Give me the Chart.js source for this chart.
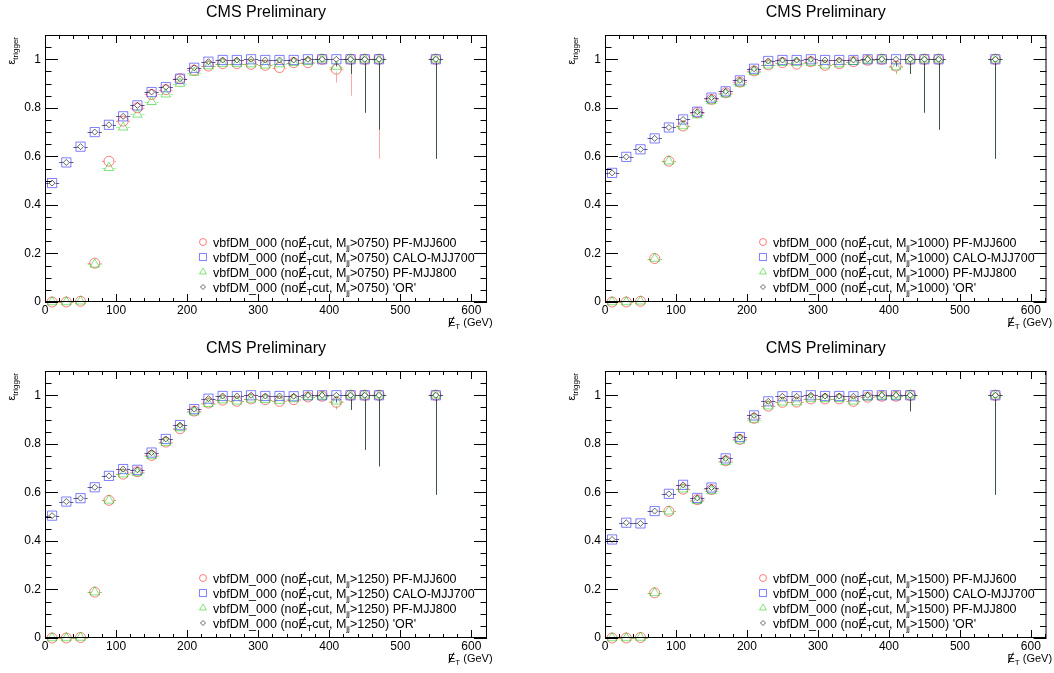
<!DOCTYPE html>
<html>
<head>
<meta charset="utf-8">
<script src="https://cdn.jsdelivr.net/npm/chart.js@4.4.0/dist/chart.umd.min.js"></script>
<style>
  body { margin: 0; background: #fff; width: 1054px; height: 673px; overflow: hidden; position: relative; }
  canvas { position: absolute; }
</style>
</head>
<body>
<canvas id="c1" width="527" height="336" style="left:0;top:0"></canvas>
<canvas id="c2" width="494" height="336" style="left:560px;top:0"></canvas>
<canvas id="c3" width="527" height="337" style="left:0;top:336px"></canvas>
<canvas id="c4" width="494" height="337" style="left:560px;top:336px"></canvas>
<script>
// bin centres (GeV) and half width
const xCenters = [10, 30, 50, 70, 90, 110, 130, 150, 170, 190, 210, 230, 250, 270, 290, 310, 330, 350, 370, 390, 410, 430, 450, 470, 550];
const binHalfWidth = 10;
const xTicks = [0, 100, 200, 300, 400, 500, 600];
const yTicks = [0, 0.2, 0.4, 0.6, 0.8, 1];
const yTickLabels = ['0', '0.2', '0.4', '0.6', '0.8', '1'];
const seriesNames = ['PF-MJJ600', 'CALO-MJJ700', 'PF-MJJ800', "'OR'"];
const massCuts = ['0750', '1000', '1250', '1500'];
const errHiSmall = 0.006;

// M_jj > 750
const p1Pf600 = [0, 0, 0.003, 0.16, 0.58, 0.745, 0.80, 0.855, 0.875, 0.92, 0.955, 0.972, 0.982, 0.982, 0.979, 0.975, 0.966, 0.986, 0.986, 1.0, 0.959, 1.0, 1.0, 1.0, 1.0];
const p1Calo  = [0.49, 0.575, 0.64, 0.70, 0.73, 0.765, 0.81, 0.865, 0.885, 0.92, 0.965, 0.99, 0.997, 0.997, 1.0, 0.997, 0.997, 0.997, 1.0, 1.0, 1.0, 1.0, 1.0, 1.0, 1.0];
const p1Pf800 = [0, 0, 0.003, 0.155, 0.553, 0.72, 0.773, 0.825, 0.856, 0.90, 0.945, 0.972, 0.982, 0.982, 0.98, 0.975, 0.98, 0.986, 0.99, 1.0, 0.97, 1.0, 1.0, 1.0, 1.0];
const p1Or    = [0.49, 0.575, 0.64, 0.70, 0.73, 0.765, 0.81, 0.865, 0.885, 0.92, 0.965, 0.99, 0.997, 0.997, 1.0, 0.997, 0.997, 0.997, 1.0, 1.0, 1.0, 1.0, 1.0, 1.0, 1.0];
const p1ErrLo = [0.01, 0.01, 0.01, 0.01, 0.01, 0.01, 0.01, 0.01, 0.01, 0.008, 0.007, 0.006, 0.005, 0.005, 0.004, 0.005, 0.005, 0.006, 0.008, 0.008, 0.03, 0.06, 0.22, 0.29, 0.41];
const p1Pf600ErrLo = [0.01, 0.01, 0.01, 0.01, 0.01, 0.01, 0.01, 0.01, 0.01, 0.008, 0.007, 0.006, 0.005, 0.005, 0.006, 0.006, 0.008, 0.008, 0.023, 0.008, 0.055, 0.15, 0.22, 0.41, 0.41];

// M_jj > 1000
const p2Pf600 = [0, 0, 0.003, 0.179, 0.58, 0.725, 0.78, 0.835, 0.862, 0.906, 0.952, 0.977, 0.986, 0.98, 0.99, 0.975, 0.982, 0.99, 0.996, 1.0, 0.972, 1.0, 1.0, 1.0, 1.0];
const p2Calo  = [0.532, 0.598, 0.629, 0.674, 0.719, 0.752, 0.784, 0.842, 0.868, 0.913, 0.961, 0.993, 0.997, 0.997, 1.0, 0.997, 0.997, 0.997, 1.0, 1.0, 1.0, 1.0, 1.0, 1.0, 1.0];
const p2Pf800 = [0, 0, 0.003, 0.179, 0.58, 0.725, 0.77, 0.828, 0.856, 0.90, 0.948, 0.975, 0.986, 0.985, 0.986, 0.975, 0.98, 0.99, 0.996, 1.0, 0.968, 1.0, 1.0, 1.0, 1.0];
const p2Or    = [0.532, 0.598, 0.629, 0.674, 0.719, 0.752, 0.784, 0.842, 0.868, 0.913, 0.961, 0.993, 0.997, 0.997, 1.0, 0.997, 0.997, 0.997, 1.0, 1.0, 1.0, 1.0, 1.0, 1.0, 1.0];
const p2ErrLo = [0.01, 0.01, 0.01, 0.01, 0.01, 0.01, 0.01, 0.01, 0.01, 0.008, 0.007, 0.006, 0.005, 0.005, 0.004, 0.005, 0.005, 0.006, 0.008, 0.008, 0.03, 0.06, 0.22, 0.29, 0.41];

// M_jj > 1250
const p3Pf600 = [0, 0, 0.002, 0.189, 0.567, 0.675, 0.685, 0.752, 0.807, 0.862, 0.935, 0.968, 0.98, 0.975, 0.985, 0.982, 0.975, 0.982, 0.993, 0.996, 0.971, 1.0, 1.0, 1.0, 1.0];
const p3Calo  = [0.504, 0.562, 0.576, 0.621, 0.668, 0.696, 0.693, 0.764, 0.82, 0.877, 0.943, 0.986, 0.997, 0.997, 1.0, 0.997, 0.997, 0.996, 1.0, 1.0, 1.0, 1.0, 1.0, 1.0, 1.0];
const p3Pf800 = [0, 0, 0.002, 0.189, 0.567, 0.675, 0.68, 0.75, 0.805, 0.865, 0.93, 0.965, 0.98, 0.975, 0.983, 0.982, 0.978, 0.985, 0.993, 0.996, 0.975, 1.0, 1.0, 1.0, 1.0];
const p3Or    = [0.504, 0.562, 0.576, 0.621, 0.668, 0.696, 0.693, 0.764, 0.82, 0.877, 0.943, 0.986, 0.997, 0.997, 1.0, 0.997, 0.997, 0.996, 1.0, 1.0, 1.0, 1.0, 1.0, 1.0, 1.0];
const p3ErrLo = [0.01, 0.01, 0.01, 0.01, 0.01, 0.01, 0.01, 0.01, 0.01, 0.008, 0.007, 0.006, 0.005, 0.005, 0.004, 0.005, 0.005, 0.006, 0.008, 0.008, 0.03, 0.06, 0.225, 0.293, 0.41];

// M_jj > 1500 (no entries at 450, 470)
const p4Pf600 = [0, 0, 0.002, 0.186, 0.522, 0.613, 0.57, 0.612, 0.73, 0.818, 0.905, 0.955, 0.971, 0.972, 0.985, 0.985, 0.985, 0.975, 0.992, 0.996, 0.996, 1.0, null, null, 1.0];
const p4Calo  = [0.406, 0.475, 0.472, 0.523, 0.594, 0.631, 0.577, 0.62, 0.74, 0.828, 0.917, 0.975, 0.996, 0.996, 1.0, 0.997, 0.997, 0.996, 1.0, 1.0, 1.0, 1.0, null, null, 1.0];
const p4Pf800 = [0, 0, 0.002, 0.186, 0.522, 0.613, 0.565, 0.606, 0.726, 0.814, 0.90, 0.955, 0.971, 0.972, 0.985, 0.985, 0.985, 0.975, 0.992, 0.996, 0.996, 1.0, null, null, 1.0];
const p4Or    = [0.406, 0.475, 0.472, 0.523, 0.594, 0.631, 0.577, 0.62, 0.74, 0.828, 0.917, 0.975, 0.996, 0.996, 1.0, 0.997, 0.997, 0.996, 1.0, 1.0, 1.0, 1.0, null, null, 1.0];
const p4ErrLo = [0.012, 0.012, 0.012, 0.012, 0.012, 0.012, 0.012, 0.012, 0.01, 0.01, 0.008, 0.007, 0.005, 0.005, 0.004, 0.005, 0.005, 0.006, 0.008, 0.008, 0.01, 0.066, null, null, 0.41];

const FONT = '"Liberation Sans", Arial, Helvetica, sans-serif';
const styles = [
  { color: 'rgba(255,0,0,0.5)', errColor: 'rgba(255,0,0,0.35)', pointStyle: 'circle', radius: 5, gap: 5, legendRadius: 3.5, order: 3 },
  { color: 'rgba(0,0,255,0.5)', errColor: 'rgba(0,0,255,0.3)', pointStyle: 'rect', radius: 6.5, gap: 4.5, legendRadius: 5, order: 2 },
  { color: 'rgba(0,200,0,0.5)', errColor: 'rgba(0,220,0,0.35)', pointStyle: 'triangle', radius: 5.5, gap: 4, legendRadius: 4, order: 1 },
  { color: 'rgba(0,0,0,0.6)', errColor: 'rgba(0,0,0,0.45)', pointStyle: 'rectRot', radius: 3, gap: 3, legendRadius: 2.5, order: 0 }
];

function buildPoints(ys, errLo) {
  const pts = [];
  xCenters.forEach((x, i) => {
    if (ys[i] === null) return;
    pts.push({ x: x, y: ys[i], lo: errLo[i], hi: Math.min(errHiSmall, 1 - ys[i]) });
  });
  return pts;
}

// slashed E with subscript T (baseline y), returns end x
function drawMet(ctx, x, y, size) {
  ctx.textBaseline = 'alphabetic';
  ctx.font = size + 'px ' + FONT;
  ctx.fillText('E', x, y);
  const w = ctx.measureText('E').width;
  ctx.beginPath();
  ctx.moveTo(x + w * 0.1, y + size * 0.1);
  ctx.lineTo(x + w * 0.8, y - size * 0.85);
  ctx.lineWidth = 1;
  ctx.stroke();
  ctx.font = Math.round(size * 0.7) + 'px ' + FONT;
  ctx.fillText('T', x + w, y + size * 0.25);
  return x + w + ctx.measureText('T').width;
}

const errorBars = {
  id: 'errorBars',
  beforeDatasetDraw(chart, args) {
    const ctx = chart.ctx;
    const ds = chart.data.datasets[args.index];
    const gap = ds.errGap;
    const xs = chart.scales.x, ys = chart.scales.y;
    ctx.save();
    ctx.strokeStyle = ds.errColor;
    ctx.lineWidth = 1;
    ctx.beginPath();
    ds.data.forEach((p, i) => {
      const el = args.meta.data[i];
      const yy = Math.round(el.y) + 0.5;
      const xx = Math.round(el.x) + 0.5;
      const xl = xs.getPixelForValue(p.x - binHalfWidth);
      const xr = xs.getPixelForValue(p.x + binHalfWidth);
      ctx.moveTo(xl, yy); ctx.lineTo(xx - gap, yy);
      ctx.moveTo(xx + gap, yy); ctx.lineTo(xr, yy);
      const yLo = ys.getPixelForValue(Math.max(0, p.y - p.lo));
      const yHi = ys.getPixelForValue(p.y + p.hi);
      if (yLo > yy + gap) { ctx.moveTo(xx, yLo); ctx.lineTo(xx, yy + gap); }
      if (yHi < yy - gap) { ctx.moveTo(xx, yHi); ctx.lineTo(xx, yy - gap); }
    });
    ctx.stroke();
    ctx.restore();
  }
};

const rootFrame = {
  id: 'rootFrame',
  afterDraw(chart, args, opts) {
    const ctx = chart.ctx;
    const { left, right, top, bottom } = chart.chartArea;
    const xs = chart.scales.x, ys = chart.scales.y;
    ctx.save();
    ctx.strokeStyle = '#000';
    ctx.fillStyle = '#000';
    ctx.lineWidth = 1;
    ctx.strokeRect(left + 0.5, top + 0.5, right - left - 1, bottom - top - 1);

    // x ticks, every 20 GeV, long every 100
    ctx.beginPath();
    for (let v = 0; v <= 620; v += 20) {
      const px = Math.round(xs.getPixelForValue(v)) + 0.5;
      const len = v % 100 === 0 ? 8 : 4;
      ctx.moveTo(px, bottom); ctx.lineTo(px, bottom - len);
      ctx.moveTo(px, top); ctx.lineTo(px, top + len);
    }
    // y ticks, every 0.05, long every 0.2
    for (let k = 0; k <= 22; k++) {
      const py = Math.round(ys.getPixelForValue(k * 0.05)) + 0.5;
      const len = k % 4 === 0 ? 13 : 6.5;
      ctx.moveTo(left, py); ctx.lineTo(left + len, py);
      ctx.moveTo(right, py); ctx.lineTo(right - len, py);
    }
    ctx.stroke();

    ctx.font = '12px ' + FONT;
    ctx.textAlign = 'center';
    ctx.textBaseline = 'top';
    xTicks.forEach(v => ctx.fillText(String(v), xs.getPixelForValue(v), bottom + 3));
    ctx.textAlign = 'right';
    ctx.textBaseline = 'middle';
    yTicks.forEach((v, i) => ctx.fillText(yTickLabels[i], left - 4, ys.getPixelForValue(v)));

    // title
    ctx.textAlign = 'center';
    ctx.textBaseline = 'middle';
    ctx.font = '16px ' + FONT;
    ctx.fillText('CMS Preliminary', (left + right) / 2, 13);

    // x axis title
    ctx.textAlign = 'left';
    let tx = drawMet(ctx, right - 39, bottom + 24, 11);
    ctx.font = '11px ' + FONT;
    ctx.fillText(' (GeV)', tx, bottom + 24);

    // y axis title
    ctx.save();
    ctx.translate(15, top + 2);
    ctx.rotate(-Math.PI / 2);
    ctx.textAlign = 'right';
    ctx.textBaseline = 'alphabetic';
    ctx.font = '8px ' + FONT;
    const subW = ctx.measureText('trigger').width;
    ctx.fillText('trigger', 0, 3);
    ctx.font = '11px ' + FONT;
    ctx.fillText('\u03B5', -subW, 0);
    ctx.restore();

    // legend
    const rowY = [242, 257, 272, 287];
    const mx = 203, tx0 = 213;
    chart.data.datasets.forEach((ds, i) => {
      const st = styles[i];
      const y = rowY[i];
      ctx.strokeStyle = st.color;
      ctx.fillStyle = 'rgba(0,0,0,0)';
      Chart.helpers.drawPoint(ctx, { pointStyle: st.pointStyle, radius: st.legendRadius, rotation: 0, borderWidth: 1 }, mx, y);
      ctx.fillStyle = '#000';
      ctx.strokeStyle = '#000';
      ctx.textAlign = 'left';
      const base = y + 4.5;
      ctx.textBaseline = 'alphabetic';
      ctx.font = '12.5px ' + FONT;
      let x = tx0;
      ctx.fillText('vbfDM_000 (no', x, base);
      x += ctx.measureText('vbfDM_000 (no').width;
      x = drawMet(ctx, x, base, 12.5);
      ctx.font = '12.5px ' + FONT;
      ctx.fillText('cut, M', x, base);
      x += ctx.measureText('cut, M').width;
      ctx.font = '8px ' + FONT;
      ctx.fillText('jj', x, base + 3);
      x += ctx.measureText('jj').width;
      ctx.font = '12.5px ' + FONT;
      ctx.fillText('>' + opts.mass + ') ' + seriesNames[i], x, base);
    });
    ctx.restore();
  }
};

function makeChart(id, mass, series, errLos) {
  const canvas = document.getElementById(id);
  const datasets = series.map((ys, i) => ({
    label: seriesNames[i],
    data: buildPoints(ys, errLos[i]),
    pointStyle: styles[i].pointStyle,
    pointRadius: styles[i].radius,
    borderColor: styles[i].color,
    backgroundColor: 'rgba(0,0,0,0)',
    borderWidth: 1,
    showLine: false,
    order: styles[i].order,
    errGap: styles[i].gap,
    errColor: styles[i].errColor,
    clip: false
  }));
  new Chart(canvas.getContext('2d'), {
    type: 'scatter',
    data: { datasets: datasets },
    options: {
      responsive: false,
      animation: false,
      layout: { padding: { left: 45, top: 35, right: canvas.width - 487, bottom: canvas.height - 302 } },
      scales: {
        x: { type: 'linear', min: 0, max: 622, display: false },
        y: { type: 'linear', min: 0, max: 1.1, display: false }
      },
      plugins: {
        legend: { display: false },
        tooltip: { enabled: false },
        rootFrame: { mass: mass }
      }
    },
    plugins: [errorBars, rootFrame]
  });
}

makeChart('c1', massCuts[0], [p1Pf600, p1Calo, p1Pf800, p1Or], [p1Pf600ErrLo, p1ErrLo, p1ErrLo, p1ErrLo]);
makeChart('c2', massCuts[1], [p2Pf600, p2Calo, p2Pf800, p2Or], [p2ErrLo, p2ErrLo, p2ErrLo, p2ErrLo]);
makeChart('c3', massCuts[2], [p3Pf600, p3Calo, p3Pf800, p3Or], [p3ErrLo, p3ErrLo, p3ErrLo, p3ErrLo]);
makeChart('c4', massCuts[3], [p4Pf600, p4Calo, p4Pf800, p4Or], [p4ErrLo, p4ErrLo, p4ErrLo, p4ErrLo]);
</script>
</body>
</html>
